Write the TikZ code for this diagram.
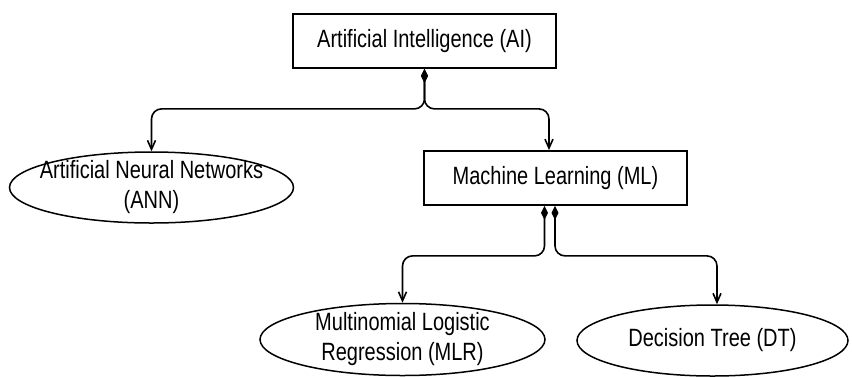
\documentclass[tikz,border=0pt]{standalone}
\usepackage{fontspec}
\setmainfont{Liberation Sans}[FakeStretch=0.8]
\usetikzlibrary{arrows.meta,shapes.geometric,calc}
\begin{document}
\begin{tikzpicture}[x=1pt,y=-1pt,
  every node/.style={font=\fontsize{25}{30}\selectfont, inner sep=0pt, align=center},
  boxnode/.style={draw, line width=1.8pt, rectangle, minimum width=263pt, minimum height=54pt},
  ellnode/.style={draw, line width=1.5pt, ellipse, minimum width=284pt, minimum height=71pt},
  link/.style={line width=1.6pt, rounded corners=10pt,
    {Diamond[length=14pt,width=7pt]}-{Straight Barb[length=9pt,width=8pt]}}
]
\useasboundingbox (0,0) rectangle (852,376);
\node[boxnode] (AI) at (424.5,41) {Artificial Intelligence (AI)};
\node[boxnode] (ML) at (555.5,178) {Machine Learning (ML)};
\node[ellnode, label={center:Artificial Neural Networks\\(ANN)}] (ANN) at (151.5,187.5) {};
\node[ellnode, minimum width=285pt, minimum height=72pt, label={center:Multinomial Logistic\\Regression (MLR)}] (MLR) at (402.5,339.5) {};
\node[ellnode, minimum width=271pt, minimum height=71pt, label={center:Decision Tree (DT)}] (DT) at (712.5,340.5) {};
\draw[link] (AI.south) -- ++(0,40) -| (ANN.north);
\draw[link] (AI.south) -- ++(0,40) -| ([xshift=-6.5pt]ML.north);
\draw[link] ([xshift=-11pt]ML.south) -- ++(0,50) -| (MLR.north);
\draw[link] ([xshift=-0.5pt]ML.south) -- ++(0,50) -| ([xshift=4.5pt]DT.north);
\end{tikzpicture}
\end{document}
